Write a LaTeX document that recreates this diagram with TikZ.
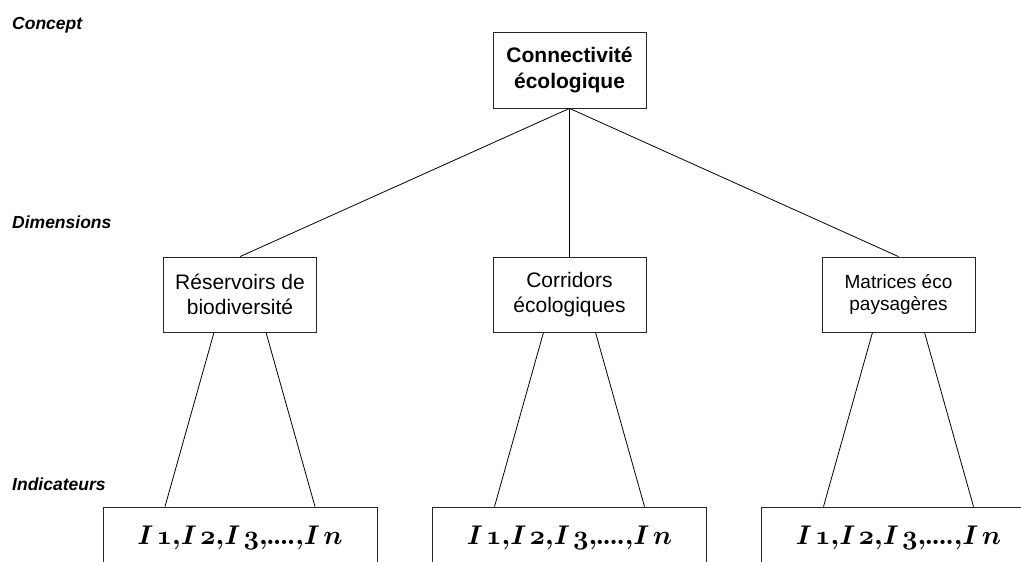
\RequirePackage{fix-cm}
\documentclass[tikz,border=0pt]{standalone}
\usepackage{fontspec}
\setmainfont{Liberation Sans}
\newcommand{\indlist}{$I\mkern2mu\mathnormal{1}{,}I\mkern2mu\mathnormal{2}{,}I\mkern2mu\mathnormal{3}{,}\mkern-1mu.\mkern-1mu.\mkern-1mu.\mkern-1mu.{,}I\mkern2mu n$}
\begin{document}
\begin{tikzpicture}[x=1pt,y=1pt,
		box/.style={draw=black!85,line width=0.8pt,minimum width=153pt,minimum height=75pt,align=center,inner sep=2pt,font=\fontsize{21}{25}\selectfont},
		level/.style={anchor=west,inner sep=0pt,font=\fontsize{17.5}{20}\selectfont\bfseries\itshape},
		indic/.style={draw=black!85,line width=0.8pt,minimum width=274pt,minimum height=62pt,inner sep=0pt,font=\fontsize{27}{32}\selectfont\boldmath},
		link/.style={line width=0.8pt}]
		\useasboundingbox (0,0) rectangle (1021,-562);
		\clip (0,0) rectangle (1021,-562);
		% levels
		\node [level] (concept) at (12,-25) {Concept};
		\node [level] (dim) at (12,-222) {Dimensions};
		\node [level] (ind) at (12,-484) {Indicateurs};
		% concept
		\node [box,minimum height=76pt,font=\fontsize{21}{26}\selectfont\bfseries] (conn) at (569.5,-70) {Connectivité\\écologique};
		% dimensions
		\node [box] (res) at (240,-294.5) {Réservoirs de\\biodiversité};
		\node [box] (cor) at (569.5,-294.5) {Corridors\\écologiques};
		\node [box,font=\fontsize{19}{22}\selectfont] (mat) at (898.5,-294.5) {Matrices éco\\paysagères};
		% indicators
		\node [indic] (ires) at (240,-538) {\indlist};
		\node [indic] (icor) at (569.5,-538) {\indlist};
		\node [indic] (imat) at (898.5,-538) {\indlist};
		% links
		\draw [link] (conn.south) -- (res.north);
		\draw [link] (conn.south) -- (cor.north);
		\draw [link] (conn.south) -- (mat.north);
		\draw [link] ([xshift=-26pt]res.south) -- ([xshift=-75pt]ires.north);
		\draw [link] ([xshift=26pt]res.south) -- ([xshift=75pt]ires.north);
		\draw [link] ([xshift=-26pt]cor.south) -- ([xshift=-75pt]icor.north);
		\draw [link] ([xshift=26pt]cor.south) -- ([xshift=75pt]icor.north);
		\draw [link] ([xshift=-26pt]mat.south) -- ([xshift=-75pt]imat.north);
		\draw [link] ([xshift=26pt]mat.south) -- ([xshift=75pt]imat.north);
\end{tikzpicture}
\end{document}
